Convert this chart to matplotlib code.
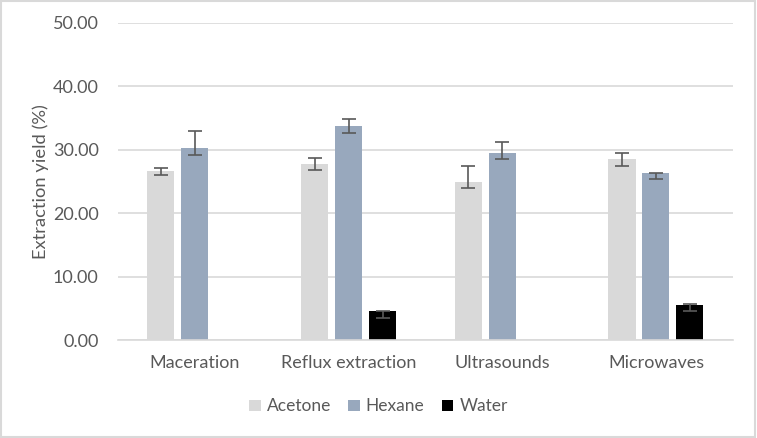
import numpy as np
import matplotlib.pyplot as plt
from matplotlib.patches import Rectangle

plt.rcParams['font.family'] = ['Lato', 'DejaVu Sans']

methods = ['Maceration', 'Reflux extraction', 'Ultrasounds', 'Microwaves']
solvents = ['Acetone', 'Hexane', 'Water']
colors = ['#d9d9d9', '#98a8bd', '#000000']

acetone = [26.7, 27.8, 25.0, 28.5]
hexane = [30.3, 33.7, 29.5, 26.3]
water = [np.nan, 4.5, np.nan, 5.6]

acetone_err_low = [0.6, 1.0, 1.1, 1.1]
acetone_err_high = [0.4, 0.9, 2.5, 1.0]
hexane_err_low = [1.1, 1.0, 1.0, 0.9]
hexane_err_high = [2.6, 1.2, 1.8, 0.1]
water_err_low = [np.nan, 1.0, np.nan, 1.0]
water_err_high = [np.nan, 0.1, np.nan, 0.1]

values = [acetone, hexane, water]
errs = [(acetone_err_low, acetone_err_high),
        (hexane_err_low, hexane_err_high),
        (water_err_low, water_err_high)]

fig = plt.figure(figsize=(7.57, 4.38), dpi=100)
ax = fig.add_axes([0.156, 0.2237, 0.812, 0.7238])

x = np.arange(len(methods))
width = 0.176
step = 0.221
for i, (name, vals, c) in enumerate(zip(solvents, values, colors)):
    pos = x + (i - 1) * step
    ax.bar(pos, vals, width, color=c, label=name, zorder=2)
    lo, hi = errs[i]
    ax.errorbar(pos, vals, yerr=[lo, hi], fmt='none', ecolor='#595959',
                elinewidth=1.2, capsize=5, capthick=1.2, zorder=3)

ax.set_xlim(-0.5, len(methods) - 0.5)
ax.set_ylim(0, 50)
ax.set_yticks(np.arange(0, 51, 10))
ax.set_yticklabels(['{:.2f}'.format(v) for v in np.arange(0, 51, 10)])
ax.set_xticks(x)
ax.set_xticklabels(methods)
ax.yaxis.grid(True, color='#d9d9d9', linewidth=1.2, zorder=0)
ax.set_axisbelow(True)
for s in ['top', 'right', 'left']:
    ax.spines[s].set_visible(False)
ax.spines['bottom'].set_color('#d9d9d9')
ax.spines['bottom'].set_linewidth(1.2)
ax.tick_params(axis='both', length=0, colors='#595959', labelsize=13)
ax.tick_params(axis='x', pad=11)
ax.tick_params(axis='y', pad=14)
ax.set_ylabel('Extraction yield (%)', fontsize=13.2, color='#595959', labelpad=3)

fig.legend(loc='center', bbox_to_anchor=(0.5, 0.072), ncol=3, frameon=False,
           fontsize=12.5, handlelength=0.65, handleheight=0.65, handletextpad=0.35,
           columnspacing=1.0, labelcolor='#595959')

fig.patches.append(Rectangle((0.001, 0.002), 0.997, 0.995, transform=fig.transFigure,
                             fill=False, edgecolor='#d9d9d9', linewidth=1.5))

fig.savefig('out.png', dpi=100)
